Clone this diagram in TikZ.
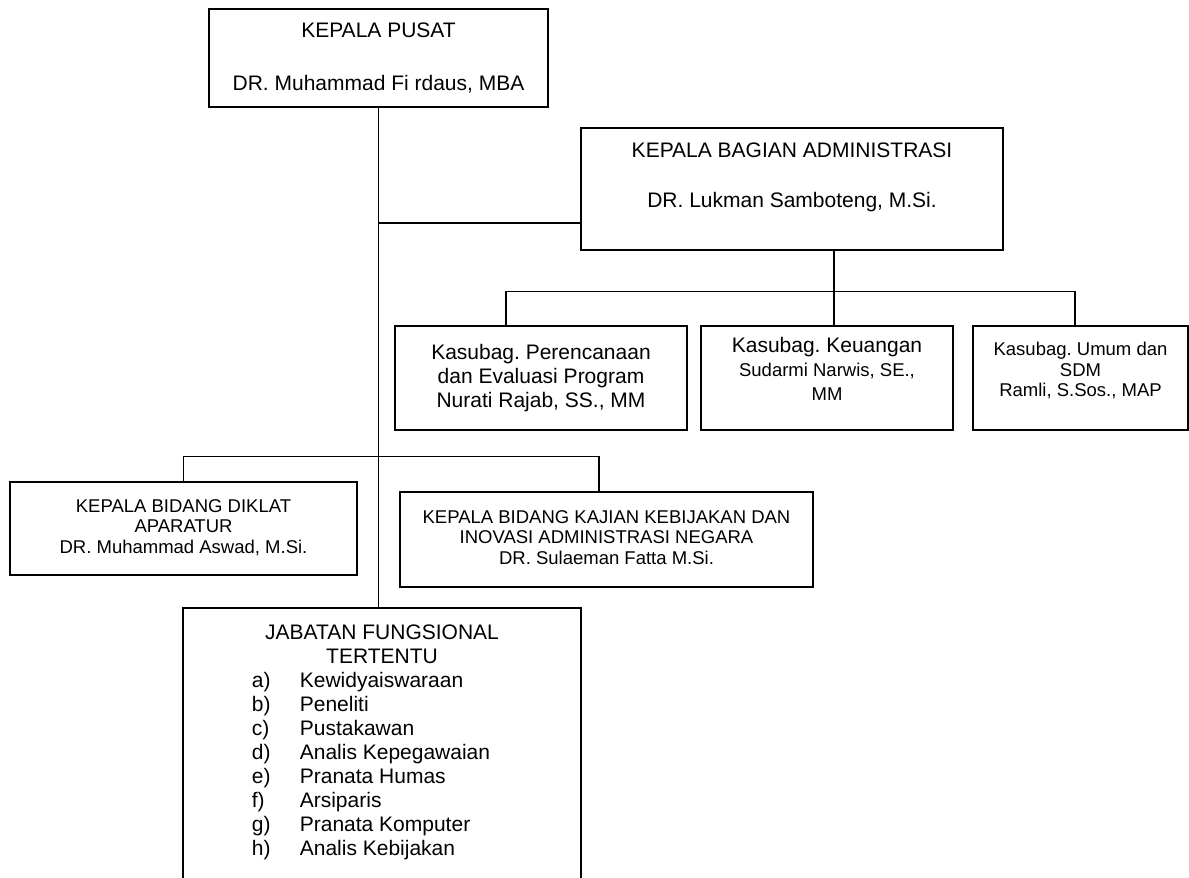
\documentclass[tikz,border=0pt]{standalone}
\usepackage{fontspec}
\setmainfont{Liberation Sans}
\usepackage{tikz}
\usetikzlibrary{positioning, calc}
\frenchspacing
\newcommand{\orgbig}{\fontsize{21}{24}\selectfont}
\newcommand{\orgsmall}{\fontsize{18.5}{20.5}\selectfont}
\tikzset{
    % Box styles - plain black frames
    unitbox/.style={
        rectangle,
        draw=black,
        line width=1.3pt,
        align=center,
        inner sep=2pt,
        font=\orgbig
    },
    smallunit/.style={
        unitbox,
        font=\orgsmall
    },
    % Connector style - straight lines only
    link/.style={
        line width=1.3pt,
        draw=black
    }
}

\begin{document}
\begin{tikzpicture}[x=1pt, y=-1pt]
    \useasboundingbox (0,0) rectangle (1189,878);

    % Top level
    \node[unitbox, minimum width=339pt, minimum height=98pt] (pusat) at (378.5,58)
        {KEPALA PUSAT\\[29pt]DR. Muhammad Fi rdaus, MBA};
    \node[unitbox, minimum width=422pt, minimum height=122pt] (kba) at (792,189)
        {KEPALA BAGIAN ADMINISTRASI\\[26pt]DR. Lukman Samboteng, M.Si.\\[4pt]\mbox{}};

    % Sub bagian
    \node[unitbox, minimum width=292pt, minimum height=104pt] (perenc) at (541,378)
        {Kasubag. Perencanaan\\dan Evaluasi Program\\Nurati Rajab, SS., MM};
    \node[unitbox, minimum width=252pt, minimum height=104pt] (keu) at (827,378)
        {Kasubag. Keuangan\\\orgsmall Sudarmi Narwis, SE.,\\\orgsmall MM\\[-6pt]\mbox{}};
    \node[smallunit, minimum width=215pt, minimum height=104pt] (umum) at (1080.5,378)
        {Kasubag. Umum dan\\SDM\\Ramli, S.Sos., MAP\\[-4pt]\mbox{}};

    % Bidang
    \node[smallunit, minimum width=347pt, minimum height=93pt] (diklat) at (183.5,528.5)
        {KEPALA BIDANG DIKLAT\\APARATUR\\DR. Muhammad Aswad, M.Si.\\[-16pt]\mbox{}};
    \node[smallunit, minimum width=413pt, minimum height=95pt] (kajian) at (606.5,539.5)
        {KEPALA BIDANG KAJIAN KEBIJAKAN DAN\\INOVASI ADMINISTRASI NEGARA\\DR. Sulaeman Fatta M.Si.\\[-16pt]\mbox{}};

    % Fungsional
    \node[unitbox, minimum width=398pt, minimum height=272pt] (jft) at (382,744)
        {JABATAN FUNGSIONAL\\TERTENTU\\
         \begin{tabular}[t]{@{}p{48pt}@{}l@{}}
         a) & Kewidyaiswaraan\\
         b) & Peneliti\\
         c) & Pustakawan\\
         d) & Analis Kepegawaian\\
         e) & Pranata Humas\\
         f) & Arsiparis\\
         g) & Pranata Komputer\\
         h) & Analis Kebijakan
         \end{tabular}\hspace*{22pt}};

    % Connectors
    \draw[link] (pusat.south) -- (pusat.south |- jft.north);
    \draw[link] ([yshift=-34pt]kba.west) coordinate (kbalink) -- (kbalink -| pusat.south);
    \draw[link] ([xshift=7pt]keu.north) -- ([xshift=7pt]keu.north |- kba.south);
    \draw[link] ([xshift=-35pt]perenc.north) -- ++(0,-34) -| ([xshift=-5.5pt]umum.north);
    \draw[link] (diklat.north) -- ++(0,-25) -| ([xshift=-7.5pt]kajian.north);
\end{tikzpicture}
\end{document}
